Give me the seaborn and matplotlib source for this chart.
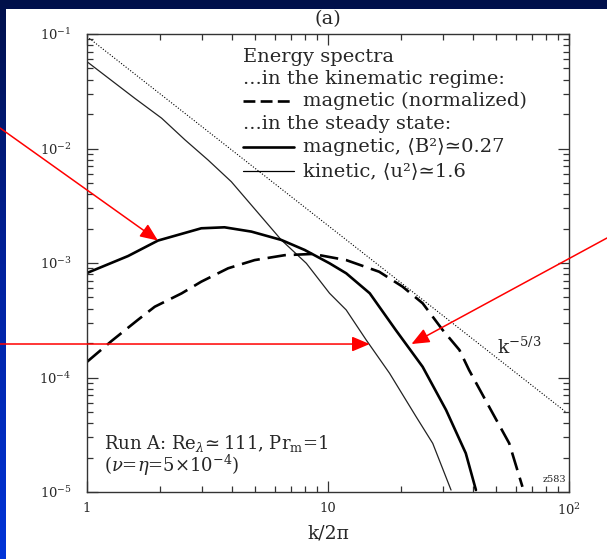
import numpy as np
import pandas as pd
import matplotlib
matplotlib.use("Agg")
import matplotlib.pyplot as plt
from matplotlib.patches import Rectangle
from matplotlib.ticker import FixedLocator, FixedFormatter, LogLocator, NullFormatter
import seaborn as sns

# ---- spectra (k/2pi, energy) ----
k_kin = [1.0, 1.58, 2.04, 2.55, 3.18, 3.97, 6.40, 8.13, 10.15, 11.9, 14.4, 18.0, 23.2, 27.2, 32.4]
E_kin = [5.73e-2, 2.74e-2, 1.84e-2, 1.19e-2, 7.93e-3, 5.13e-3, 1.59e-3, 9.94e-4, 5.44e-4,
         3.89e-4, 2.13e-4, 1.09e-4, 4.55e-5, 2.66e-5, 1.04e-5]

k_mag = [1.0, 1.48, 1.97, 2.98, 3.72, 4.81, 6.40, 8.0, 10.15, 11.9, 14.9, 19.1, 24.7, 30.9, 37.3, 41.1]
E_mag = [8.18e-4, 1.15e-3, 1.57e-3, 2.01e-3, 2.05e-3, 1.88e-3, 1.59e-3, 1.30e-3, 9.94e-4,
         8.13e-4, 5.44e-4, 2.60e-4, 1.24e-4, 5.20e-5, 2.18e-5, 1.04e-5]

k_kinem = [1.0, 1.27, 1.63, 1.91, 2.47, 2.98, 3.85, 4.96, 6.61, 8.65, 11.9, 16.3, 20.4, 24.7,
           29.9, 35.1, 38.5, 46.6, 56.5, 64.1]
E_kinem = [1.37e-4, 2.10e-4, 3.20e-4, 4.15e-4, 5.43e-4, 6.87e-4, 8.99e-4, 1.06e-3, 1.17e-3,
           1.20e-3, 1.06e-3, 8.39e-4, 6.21e-4, 4.45e-4, 2.60e-4, 1.74e-4, 1.16e-4, 5.56e-5,
           2.66e-5, 1.11e-5]

# Kolmogorov reference slope, end points
k_ref = [1.0, 97.0]
E_ref = [9.5e-2, 5.0e-5]

x_ticks = [1, 10, 100]
x_tick_labels = ["1", "10", r"$10^2$"]
y_ticks = [1e-5, 1e-4, 1e-3, 1e-2, 1e-1]
y_tick_labels = [r"$10^{-5}$", r"$10^{-4}$", r"$10^{-3}$", r"$10^{-2}$", r"$10^{-1}$"]

sns.set_theme(style="ticks")
plt.rcParams["font.family"] = ["DejaVu Serif", "DejaVu Sans"]
plt.rcParams["mathtext.fontset"] = "dejavuserif"

W, H = 607, 559
fig = plt.figure(figsize=(W / 100, H / 100), dpi=100)

# slide background: blue gradient with white panel
bg = fig.add_axes([0, 0, 1, 1])
grad = np.linspace(0, 1, 256).reshape(-1, 1)
cmap = matplotlib.colors.LinearSegmentedColormap.from_list("slide", ["#00104a", "#0022a0", "#0034d8"])
bg.imshow(grad, aspect="auto", cmap=cmap, extent=[0, 1, 0, 1], origin="upper")
bg.add_patch(Rectangle((6 / W, 0), 1 - 6 / W, 1 - 9 / H, facecolor="white", edgecolor="none"))
bg.set_xlim(0, 1)
bg.set_ylim(0, 1)
bg.axis("off")

left, right, top, bottom = 87, 569, 34, 492
ax = fig.add_axes([left / W, 1 - bottom / H, (right - left) / W, (bottom - top) / H])
ax.set_facecolor("none")
ax.set_xscale("log")
ax.set_yscale("log")

df_kin = pd.DataFrame({"k": k_kin, "E": E_kin})
df_mag = pd.DataFrame({"k": k_mag, "E": E_mag})
df_kinem = pd.DataFrame({"k": k_kinem, "E": E_kinem})
df_ref = pd.DataFrame({"k": k_ref, "E": E_ref})

sns.lineplot(data=df_ref, x="k", y="E", ax=ax, color="black", lw=0.8,
             linestyle=(0, (1, 1.6)), sort=False, errorbar=None)
sns.lineplot(data=df_kin, x="k", y="E", ax=ax, color="#222222", lw=0.9,
             sort=False, errorbar=None)
sns.lineplot(data=df_mag, x="k", y="E", ax=ax, color="black", lw=1.9,
             sort=False, errorbar=None)
sns.lineplot(data=df_kinem, x="k", y="E", ax=ax, color="black", lw=1.9,
             linestyle=(0, (7, 3)), sort=False, errorbar=None)

ax.set_xlim(1, 100)
ax.set_ylim(1e-5, 1e-1)
ax.xaxis.set_major_locator(FixedLocator(x_ticks))
ax.xaxis.set_major_formatter(FixedFormatter(x_tick_labels))
ax.xaxis.set_minor_locator(LogLocator(base=10, subs=np.arange(2, 10)))
ax.xaxis.set_minor_formatter(NullFormatter())
ax.yaxis.set_major_locator(FixedLocator(y_ticks))
ax.yaxis.set_major_formatter(FixedFormatter(y_tick_labels))
ax.yaxis.set_minor_locator(LogLocator(base=10, subs=np.arange(2, 10)))
ax.yaxis.set_minor_formatter(NullFormatter())

ax.tick_params(which="both", direction="in", top=True, right=True, color="#333333", width=0.9)
ax.tick_params(which="major", length=8, labelsize=9.5)
ax.tick_params(axis="y", which="major", pad=11)
ax.tick_params(axis="x", which="major", pad=7)
ax.tick_params(which="minor", length=4.5)
for s in ax.spines.values():
    s.set_color("#333333")
    s.set_linewidth(1.0)

ax.set_xlabel("k/2π", fontsize=13.5, labelpad=5)
ax.set_ylabel("")
ax.set_title("(a)", fontsize=14, pad=7)

# text legend
tr = ax.transAxes
def ax_xy(px, py):
    return ((px - left) / (right - left), (bottom - py) / (bottom - top))

fs = 14
for txt, py in [("Energy spectra", 57), ("...in the kinematic regime:", 79),
                ("...in the steady state:", 124)]:
    ax.text(*ax_xy(243, py), txt, transform=tr, fontsize=fs, va="center", ha="left")
ax.text(*ax_xy(303, 101), "magnetic (normalized)", transform=tr, fontsize=fs, va="center")
ax.text(*ax_xy(303, 147), "magnetic, ⟨B²⟩≃0.27", transform=tr, fontsize=fs, va="center")
ax.text(*ax_xy(303, 171), "kinetic, ⟨u²⟩≃1.6", transform=tr, fontsize=fs, va="center")
for py, lw, ls in [(101, 1.9, (0, (4.5, 2))), (147, 1.9, "-"), (171, 0.9, "-")]:
    x0, y0 = ax_xy(243, py)
    x1, _ = ax_xy(294, py)
    ax.plot([x0, x1], [y0, y0], transform=tr, color="black", lw=lw, linestyle=ls)

ax.text(*ax_xy(497, 347), r"k$^{-5/3}$", transform=tr, fontsize=13.5, va="center")
ax.text(*ax_xy(104, 443), r"Run A: Re$_\lambda\!\simeq$111, Pr$_\mathrm{m}$=1", transform=tr,
        fontsize=13, va="center")
ax.text(*ax_xy(104, 465), r"($\nu$=$\eta$=5×10$^{-4}$)", transform=tr, fontsize=13, va="center")
ax.text(*ax_xy(566, 479), "z583", transform=tr, fontsize=7, ha="right", va="center")

# red pointers
arrow = dict(arrowstyle="-|>,head_length=0.9,head_width=0.38", color="red", lw=1.1,
             shrinkA=0, shrinkB=0)
ax.annotate("", xy=(1.97, 1.57e-3), xytext=(0, H - 128), textcoords="figure pixels",
            arrowprops=arrow, annotation_clip=False)
ax.annotate("", xy=(14.9, 1.96e-4), xytext=(0, H - 344), textcoords="figure pixels",
            arrowprops=arrow, annotation_clip=False)
ax.annotate("", xy=(22.2, 1.96e-4), xytext=(W, H - 238), textcoords="figure pixels",
            arrowprops=arrow, annotation_clip=False)

fig.savefig("out.png", dpi=100)
